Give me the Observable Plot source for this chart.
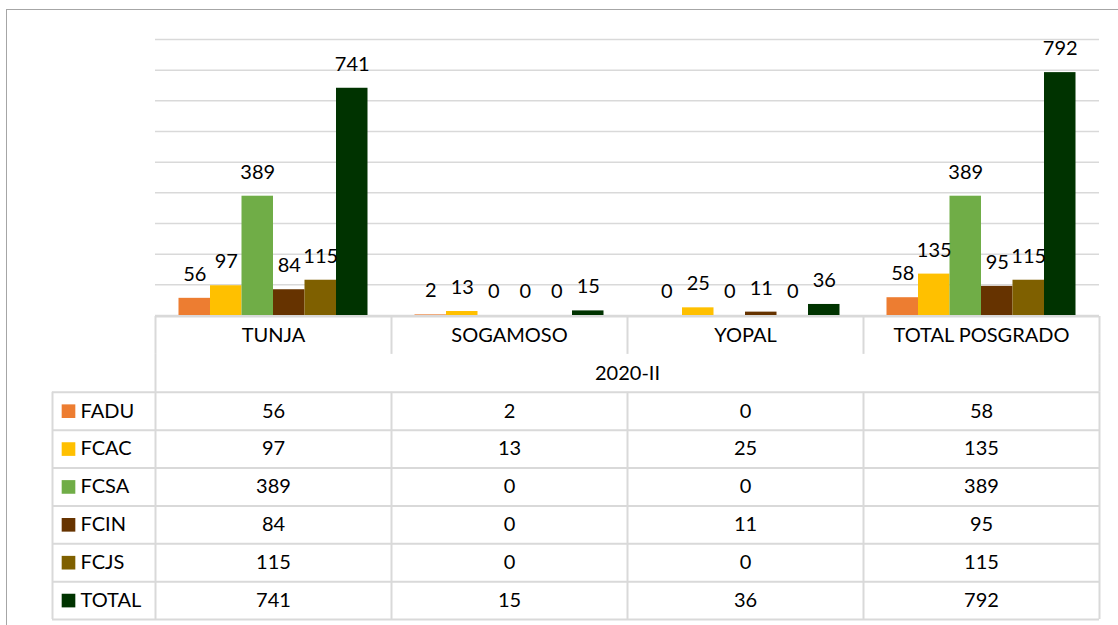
<!DOCTYPE html>
<html>
<head>
<meta charset="utf-8">
<script src="https://cdn.jsdelivr.net/npm/d3@7"></script>
<script src="https://cdn.jsdelivr.net/npm/@observablehq/plot@0.6"></script>
<style>
  html, body { margin: 0; padding: 0; background: #fff; overflow: hidden; }
  #wrap { position: relative; width: 1118px; height: 625px; overflow: hidden; font-family: Lato, sans-serif; }
  #frame { position: absolute; left: 6px; top: 9px; width: 1300px; height: 900px; border: 1.5px solid #a6a6a6; box-sizing: border-box; }
  #chart { position: absolute; left: 0; top: 0; }
  #table { position: absolute; left: 0; top: 300px; }
</style>
</head>
<body>
<div id="wrap">
  <div id="frame"></div>
  <div id="chart"></div>
  <div id="table"></div>
</div>
<script>
// ---- data ----
const categories = ["TUNJA", "SOGAMOSO", "YOPAL", "TOTAL POSGRADO"];
const series = ["FADU", "FCAC", "FCSA", "FCIN", "FCJS", "TOTAL"];
const FADU  = [56, 2, 0, 58];
const FCAC  = [97, 13, 25, 135];
const FCSA  = [389, 0, 0, 389];
const FCIN  = [84, 0, 11, 95];
const FCJS  = [115, 0, 0, 115];
const TOTAL = [741, 15, 36, 792];
const period = "2020-II";
const seriesColors = ["#ED7D31", "#FFC000", "#70AD47", "#663300", "#7F6000", "#003300"];
const gridTicks = [0, 100, 200, 300, 400, 500, 600, 700, 800, 900];

const seriesValues = [FADU, FCAC, FCSA, FCIN, FCJS, TOTAL];
const rows = [];
categories.forEach((cat, c) => {
  series.forEach((s, r) => rows.push({cat, c, series: s, r, value: seriesValues[r][c]}));
});

const FONT = "Lato, sans-serif";
const FS = 20;
const LINE = "#d9d9d9";

// ---- chart ----
const chart = Plot.plot({
  width: 1118, height: 316,
  marginTop: 39, marginBottom: 1, marginLeft: 155, marginRight: 19,
  style: {fontFamily: FONT, fontSize: FS + "px", background: "transparent", color: "#000"},
  facet: {data: rows, x: "cat"},
  fx: {domain: categories, padding: 0, axis: null},
  x: {domain: series, paddingInner: 0, paddingOuter: 0.746, axis: null, round: false},
  y: {domain: [0, 900], axis: null},
  color: {domain: series, range: seriesColors},
  marks: [
    Plot.ruleY(gridTicks, {stroke: LINE, strokeWidth: 1.5}),
    Plot.barY(rows, {x: "series", y: "value", fill: "series", inset: 0}),
    Plot.text(rows, {x: "series", y: "value", text: d => String(d.value), dy: -24,
      lineAnchor: "middle", fontSize: FS, fill: "#000"})
  ]
});
document.getElementById("chart").appendChild(chart);

// ---- data table ----
const nRows = series.length + 2;
const colEdges = d3.range(categories.length + 1);
const rowEdges = d3.range(2, nRows + 1);

const table = Plot.plot({
  width: 1118, height: 325,
  marginTop: 16, marginBottom: 6, marginLeft: 155, marginRight: 19,
  style: {fontFamily: FONT, fontSize: FS + "px", background: "transparent", color: "#000"},
  x: {domain: [0, categories.length], axis: null},
  y: {domain: [0, nRows], reverse: true, axis: null},
  color: {domain: series, range: seriesColors},
  marks: [
    Plot.ruleY([0], {x1: 0, x2: categories.length, stroke: LINE, strokeWidth: 2}),
    Plot.ruleX(colEdges, {x: d => d, y1: () => 0, y2: () => 1, stroke: LINE, strokeWidth: 2}),
    Plot.ruleX([0, categories.length], {x: d => d, y1: () => 1, y2: () => 2, stroke: LINE, strokeWidth: 2}),
    Plot.ruleX(colEdges, {x: d => d, y1: () => 2, y2: () => nRows, stroke: LINE, strokeWidth: 2}),
    Plot.ruleX([0], {x: d => d, y1: () => 2, y2: () => nRows, dx: -103, stroke: LINE, strokeWidth: 2}),
    Plot.ruleY(rowEdges, {y: d => d, x1: () => 0, x2: () => categories.length, insetLeft: -103, stroke: LINE, strokeWidth: 2}),
    Plot.text(categories, {x: (d, i) => i + 0.5, y: () => 0.5, text: d => d, fontSize: FS, fill: "#000"}),
    Plot.text([period], {x: () => categories.length / 2, y: () => 1.5, text: d => d, fontSize: FS, fill: "#000"}),
    Plot.dot(series, {x: () => 0, y: (d, i) => i + 2.5, dx: -87, symbol: "square", r: 7.7, fill: d => d, stroke: null}),
    Plot.text(series, {x: () => 0, y: (d, i) => i + 2.5, dx: -75, text: d => d, textAnchor: "start", fontSize: FS, fill: "#000"}),
    Plot.text(rows, {x: d => d.c + 0.5, y: d => d.r + 2.5, text: d => String(d.value), fontSize: FS, fill: "#000"})
  ]
});
document.getElementById("table").appendChild(table);
</script>
</body>
</html>
